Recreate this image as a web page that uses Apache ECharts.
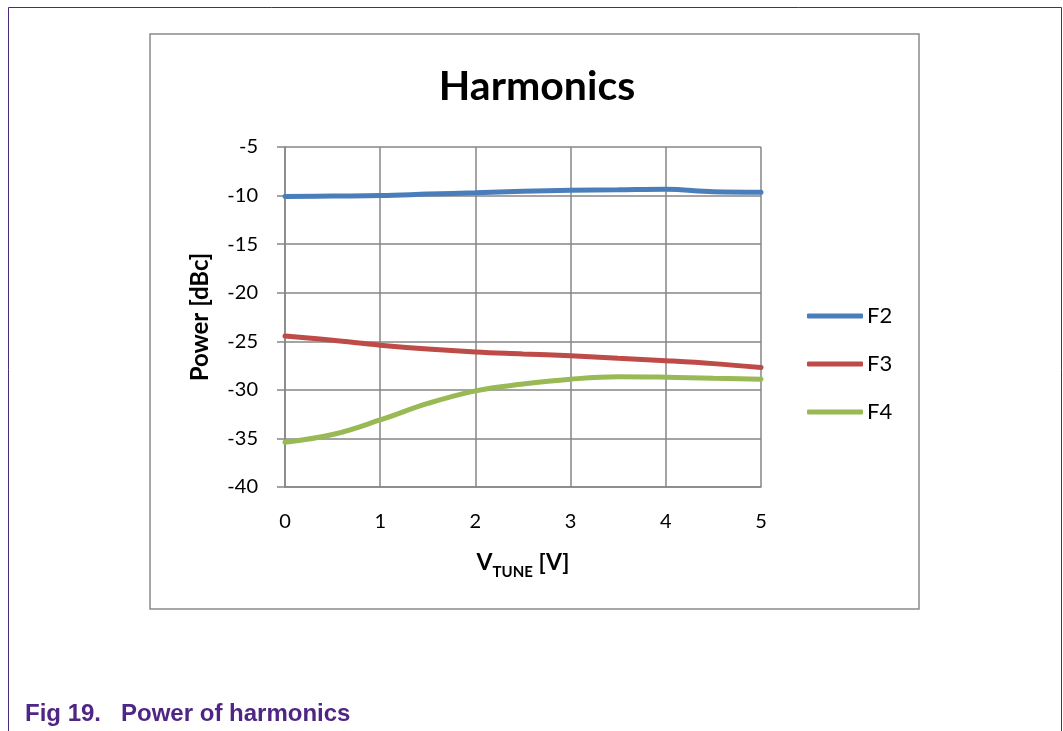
<!DOCTYPE html>
<html>
<head>
<meta charset="utf-8">
<script src="https://cdn.jsdelivr.net/npm/echarts@6/dist/echarts.min.js"></script>
<style>html,body{margin:0;padding:0;background:#fff;}#c{width:1063px;height:731px;}</style>
</head>
<body>
<div id="c"></div>
<script>
var xValues = [0, 0.5, 1, 1.5, 2, 2.5, 3, 3.5, 4, 4.5, 5];
var f2 = [-10.1, -10.05, -10.0, -9.85, -9.7, -9.55, -9.45, -9.4, -9.35, -9.6, -9.65];
var f3 = [-24.45, -24.9, -25.4, -25.8, -26.1, -26.3, -26.5, -26.75, -27.0, -27.3, -27.7];
var f4 = [-35.4, -34.6, -33.1, -31.4, -30.1, -29.4, -28.9, -28.65, -28.7, -28.8, -28.9];
var seriesNames = ['F2', 'F3', 'F4'];
var seriesColors = ['#4a7ebb', '#be4b48', '#98b954'];
var yTicks = {min: -40, max: -5, interval: 5};
var xTicks = {min: 0, max: 5, interval: 1};

function pairs(ys) { return xValues.map(function (x, i) { return [x, ys[i]]; }); }
var allData = [f2, f3, f4];
var FONT = 'Lato';

var chart = echarts.init(document.getElementById('c'), null, {renderer: 'canvas'});
chart.setOption({
  animation: false,
  backgroundColor: '#fff',
  title: {
    text: 'Harmonics', left: 537, top: 66, textAlign: 'center', padding: 0,
    textStyle: {fontFamily: FONT, fontWeight: 'bold', fontSize: 41, color: '#000'}
  },
  legend: {
    orient: 'vertical', left: 807, top: 305, itemGap: 26, itemWidth: 56, itemHeight: 5,
    padding: 0, icon: 'roundRect',
    textStyle: {fontFamily: FONT, fontSize: 22, color: '#000', padding: [0, 0, 0, -1]},
    data: seriesNames
  },
  grid: {left: 285, top: 147, right: 302, bottom: 244, containLabel: false},
  xAxis: {
    type: 'value', min: xTicks.min, max: xTicks.max, interval: xTicks.interval,
    name: '{v|V}{s|TUNE}{v| [V]}', nameLocation: 'middle', nameGap: 64,
    nameTextStyle: {rich: {
      v: {fontFamily: FONT, fontWeight: 'bold', fontSize: 23, color: '#000', verticalAlign: 'bottom'},
      s: {fontFamily: FONT, fontWeight: 'bold', fontSize: 15, color: '#000', verticalAlign: 'bottom', padding: [0, 0, -6, 0]}
    }},
    axisLine: {show: true, lineStyle: {color: '#868686', width: 1.5}},
    axisTick: {show: false},
    axisLabel: {fontFamily: FONT, fontSize: 20, color: '#000', margin: 25},
    splitLine: {show: true, lineStyle: {color: '#868686', width: 1.5}}
  },
  yAxis: {
    type: 'value', min: yTicks.min, max: yTicks.max, interval: yTicks.interval,
    name: 'Power [dBc]', nameLocation: 'middle', nameGap: 73, nameRotate: 90,
    nameTextStyle: {fontFamily: FONT, fontWeight: 'bold', fontSize: 24, color: '#000'},
    axisLine: {show: true, lineStyle: {color: '#868686', width: 1.5}},
    axisTick: {show: true, inside: false, length: 8, lineStyle: {color: '#868686', width: 1.5}},
    axisLabel: {fontFamily: FONT, fontSize: 20, color: '#000', margin: 27},
    splitLine: {show: true, lineStyle: {color: '#868686', width: 1.5}}
  },
  series: seriesNames.map(function (n, i) {
    return {
      name: n, type: 'line', data: pairs(allData[i]), smooth: 0.4, showSymbol: false,
      symbol: 'none', color: seriesColors[i],
      lineStyle: {color: seriesColors[i], width: 5, cap: 'round'}
    };
  }),
  graphic: [
    {type: 'polyline', silent: true, shape: {points: [[8.5, 731], [8.5, 7.5], [1061.5, 7.5], [1061.5, 731]]},
     style: {stroke: '#4b2a7b', lineWidth: 1, fill: null}},
    {type: 'rect', silent: true, shape: {x: 150, y: 34, width: 769, height: 575},
     style: {stroke: '#8a8a8a', lineWidth: 1.5, fill: null}, z: -1},
    {type: 'text', left: 25, top: 702, silent: true,
     style: {text: 'Fig 19.   Power of harmonics', fill: '#4f2683', font: 'bold 24px "Liberation Sans", Arial, sans-serif'}}
  ]
});
</script>
</body>
</html>
